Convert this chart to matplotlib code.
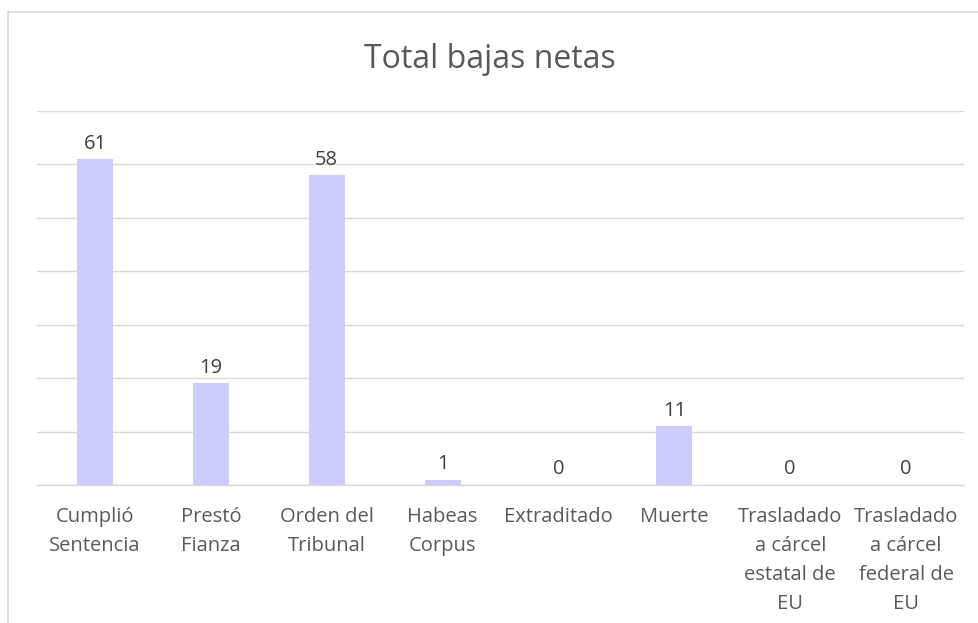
import matplotlib
matplotlib.use("Agg")
import matplotlib.pyplot as plt
from matplotlib.lines import Line2D

# Data
categories = ["Cumplió\nSentencia", "Prestó\nFianza", "Orden del\nTribunal",
              "Habeas\nCorpus", "Extraditado", "Muerte",
              "Trasladado\na cárcel\nestatal de\nEU",
              "Trasladado\na cárcel\nfederal de\nEU"]
values = [61, 19, 58, 1, 0, 11, 0, 0]
title = "Total bajas netas"

plt.rcParams['font.family'] = ['Open Sans', 'DejaVu Sans']

fig = plt.figure(figsize=(9.79, 6.23), dpi=100)
ax = fig.add_axes([0.0378, 0.2215, 0.9469, 0.6003])

x = list(range(len(values)))
ax.bar(x, values, width=0.31, color="#CCCCFF", zorder=3)
ax.set_xlim(-0.5, len(values) - 0.5)
ax.set_ylim(0, 70)
ax.set_yticks(range(0, 71, 10))
ax.yaxis.grid(True, color="#D9D9D9", linewidth=1.0, zorder=0)
ax.tick_params(axis="y", left=False, labelleft=False)
ax.tick_params(axis="x", bottom=False, pad=12)
ax.set_xticks(x)
ax.set_xticklabels(categories, fontsize=14.5, color="#595959", linespacing=1.62)
for side in ["top", "right", "left"]:
    ax.spines[side].set_visible(False)
ax.spines["bottom"].set_color("#D9D9D9")
ax.spines["bottom"].set_linewidth(1.0)

# Value labels above the bars
for xi, v in zip(x, values):
    ax.annotate(str(v), (xi, v), xytext=(0, 4), textcoords="offset points",
                ha="center", va="bottom", fontsize=14.5, color="#404040")

fig.text(0.5, 0.904, title, ha="center", va="center", fontsize=23, color="#595959")

# chart frame (left and top edges visible)
fig.add_artist(Line2D([8 / 979, 8 / 979], [0, 1 - 12 / 623], color="#D9D9D9", linewidth=1.2))
fig.add_artist(Line2D([8 / 979, 1], [1 - 12 / 623, 1 - 12 / 623], color="#D9D9D9", linewidth=1.2))

fig.savefig("out.png", dpi=100, facecolor="white")
